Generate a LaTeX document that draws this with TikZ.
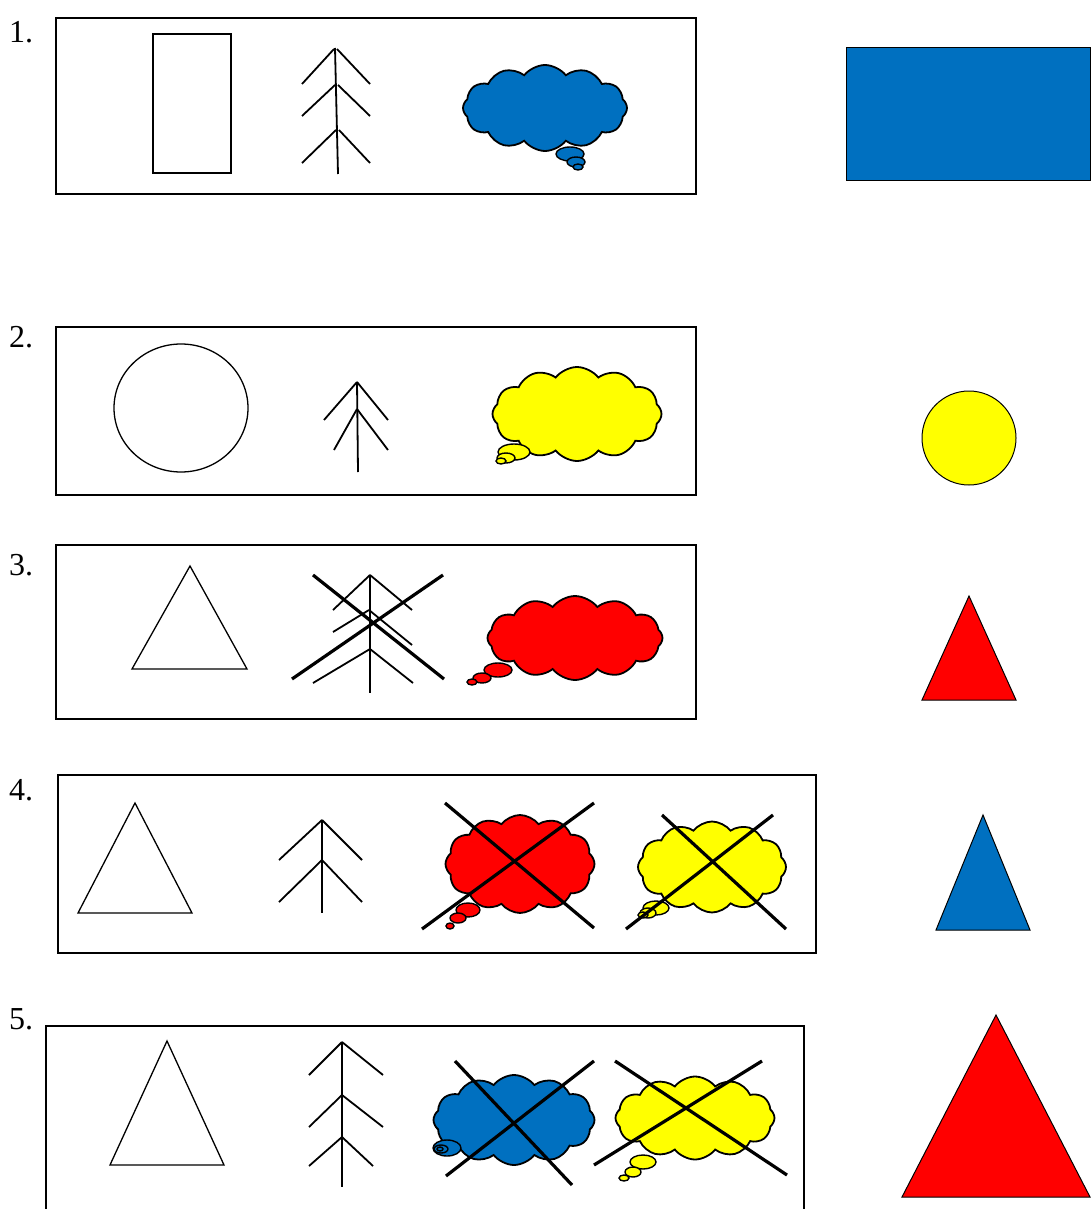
\documentclass[tikz,border=0pt]{standalone}
\usepackage{fontspec}
\setmainfont{Liberation Serif}
\usetikzlibrary{shapes.symbols}
\definecolor{pblue}{RGB}{0,112,192}
\definecolor{pyellow}{RGB}{255,255,0}
\definecolor{pred}{RGB}{255,0,0}
\tikzset{
  frame/.style={draw=black, line width=1.4pt},
  outline/.style={draw=black, line width=1.3pt},
  treeline/.style={draw=black, line width=1.8pt},
  crossline/.style={draw=black, line width=3.2pt},
  thought/.style={cloud, cloud puffs=12, cloud puff arc=105, cloud ignores aspect, draw=black, line width=1.8pt, inner sep=0pt, outer sep=0pt},
  bubble/.style={draw=black, line width=1.4pt},
  lab/.style={font=\fontsize{32}{34}\selectfont, inner sep=0pt, anchor=west}
}
\begin{document}
\begin{tikzpicture}[x=1pt,y=-1pt]
\useasboundingbox (0,0) rectangle (1091,1209);
\fill[white] (0,0) rectangle (1091,1209);

% labels
\node[lab] (l1) at (9,32) {1.};
\node[lab] (l2) at (9,337) {2.};
\node[lab] (l3) at (9,565) {3.};
\node[lab] (l4) at (9,790) {4.};
\node[lab] (l5) at (9,1019) {5.};

% frames
\draw[frame] (56,18) rectangle (696,194);
\draw[frame] (56,327) rectangle (696,495);
\draw[frame] (56,545) rectangle (696,719);
\draw[frame] (58,775) rectangle (816,953);
\draw[frame] (46,1212) -- (46,1026) -- (804,1026) -- (804,1212);

% ===== Row 1 =====
\draw[outline] (153,34) rectangle (231,173);
\draw[treeline] (335,48) -- (338,174);
\draw[treeline] (334,49) -- (302,84) (337,49) -- (370,84);
\draw[treeline] (335,85) -- (302,116) (338,85) -- (370,116);
\draw[treeline] (336,130) -- (302,163) (339,130) -- (370,163);
\node[thought, fill=pblue, minimum width=164pt, minimum height=86pt] (c1) at (545,108) {};
\draw[bubble, fill=pblue] (570,154) ellipse [x radius=14, y radius=7];
\draw[bubble, fill=pblue] (576,162) ellipse [x radius=9, y radius=5];
\draw[bubble, fill=pblue] (578,167) ellipse [x radius=5, y radius=3];
\fill[pblue, draw=black, line width=1pt] (846,48) rectangle (1090,181);

% ===== Row 2 =====
\draw[outline] (181,408) ellipse [x radius=67, y radius=64];
\draw[treeline] (357,382) -- (358,472);
\draw[treeline] (357,382) -- (324,420) (357,382) -- (388,420);
\draw[treeline] (357,409) -- (334,450) (357,409) -- (388,450);
\node[thought, fill=pyellow, minimum width=169pt, minimum height=94pt] (c2) at (577,414) {};
\draw[bubble, fill=pyellow] (514,452) ellipse [x radius=16, y radius=8];
\draw[bubble, fill=pyellow] (506,458) ellipse [x radius=9, y radius=5];
\draw[bubble, fill=pyellow] (501,461) ellipse [x radius=5, y radius=3];
\draw[black, line width=1pt, fill=pyellow] (969,438) circle [radius=47];

% ===== Row 3 =====
\draw[outline] (132,669) -- (190,566) -- (247,669) -- cycle;
\draw[treeline] (370,575) -- (370,693);
\draw[treeline] (370,575) -- (333,610) (370,575) -- (412,610);
\draw[treeline] (369,610) -- (333,632) (369,610) -- (412,645);
\draw[treeline] (370,649) -- (313,683) (370,649) -- (413,683);
\draw[crossline] (313,575) -- (444,679);
\draw[crossline] (292,679) -- (443,575);
\node[thought, fill=pred, minimum width=175pt, minimum height=84pt] (c3) at (575,638) {};
\draw[bubble, fill=pred] (498,670) ellipse [x radius=14, y radius=7];
\draw[bubble, fill=pred] (482,678) ellipse [x radius=9, y radius=5];
\draw[bubble, fill=pred] (472,682) ellipse [x radius=5, y radius=3];
\draw[black, line width=1pt, fill=pred] (922,700) -- (969,596) -- (1016,700) -- cycle;

% ===== Row 4 =====
\draw[outline] (78,913) -- (135,803) -- (192,913) -- cycle;
\draw[treeline] (322,820) -- (322,913);
\draw[treeline] (322,820) -- (279,860) (322,820) -- (362,860);
\draw[treeline] (322,860) -- (279,902) (322,860) -- (362,902);
\node[thought, fill=pred, minimum width=149pt, minimum height=98pt] (c4a) at (520,864) {};
\draw[bubble, fill=pred] (468,910) ellipse [x radius=12, y radius=7];
\draw[bubble, fill=pred] (458,918) ellipse [x radius=8, y radius=5];
\draw[bubble, fill=pred] (450,926) ellipse [x radius=4, y radius=3];
\draw[crossline] (445,803) -- (594,928);
\draw[crossline] (422,929) -- (594,803);
\node[thought, fill=pyellow, minimum width=148pt, minimum height=91pt] (c4b) at (712,867) {};
\draw[bubble, fill=pyellow] (656,908) ellipse [x radius=13, y radius=7];
\draw[bubble, fill=pyellow] (648,913) ellipse [x radius=8, y radius=5];
\draw[bubble, fill=pyellow] (643,915) ellipse [x radius=5, y radius=3];
\draw[crossline] (662,815) -- (786,929);
\draw[crossline] (626,929) -- (773,815);
\draw[black, line width=1pt, fill=pblue] (936,930) -- (983,815) -- (1030,930) -- cycle;

% ===== Row 5 =====
\draw[outline] (110,1165) -- (167,1041) -- (224,1165) -- cycle;
\draw[treeline] (342,1042) -- (342,1187);
\draw[treeline] (342,1042) -- (309,1075) (342,1042) -- (383,1075);
\draw[treeline] (342,1095) -- (309,1127) (342,1095) -- (383,1127);
\draw[treeline] (342,1137) -- (309,1166) (342,1137) -- (373,1166);
\node[thought, fill=pblue, minimum width=161pt, minimum height=90pt] (c5a) at (514,1120) {};
\draw[bubble, fill=pblue] (447,1148) ellipse [x radius=14, y radius=8];
\draw[bubble, fill=pblue] (441,1149) ellipse [x radius=7, y radius=4];
\draw[bubble, fill=pblue] (440,1149) ellipse [x radius=3, y radius=2];
\draw[crossline] (455,1061) -- (572,1185);
\draw[crossline] (446,1176) -- (594,1061);
\node[thought, fill=pyellow, minimum width=159pt, minimum height=83pt] (c5b) at (695,1118) {};
\draw[bubble, fill=pyellow] (643,1162) ellipse [x radius=13, y radius=7];
\draw[bubble, fill=pyellow] (633,1172) ellipse [x radius=8, y radius=5];
\draw[bubble, fill=pyellow] (624,1178) ellipse [x radius=5, y radius=3];
\draw[crossline] (615,1061) -- (787,1175);
\draw[crossline] (594,1165) -- (762,1061);
\draw[black, line width=1pt, fill=pred] (902,1197) -- (996,1015) -- (1090,1197) -- cycle;
\end{tikzpicture}
\end{document}
